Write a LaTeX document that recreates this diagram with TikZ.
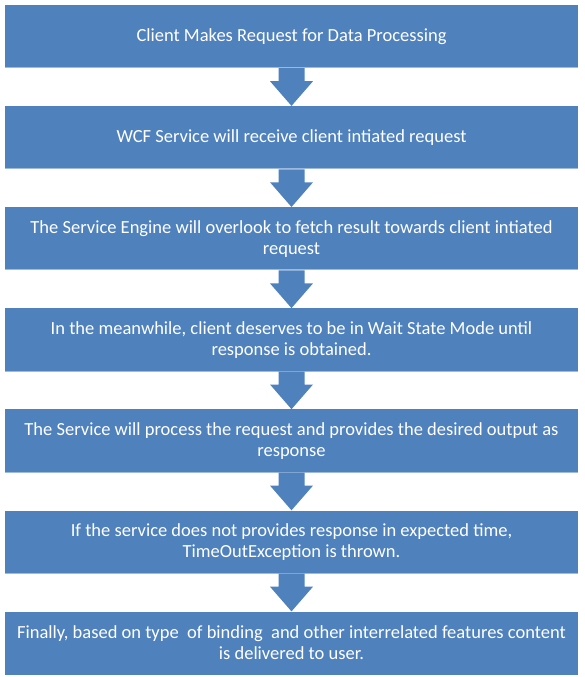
\documentclass[tikz,border=0pt]{standalone}
\usepackage{fontspec}
\setmainfont{Carlito}
\usetikzlibrary{positioning,calc}

\definecolor{stepblue}{HTML}{4F81BD}
\definecolor{stepline}{HTML}{9DB9DD}

\begin{document}
\begin{tikzpicture}[
    x = 1pt, y = 1pt,
    stepbox/.style = {fill = stepblue, minimum width = 573pt, minimum height = 63pt,
      inner sep = 0pt, text = white, align = center,
      font = \fontsize{18.5}{21}\selectfont},
    downarrow/.style = {fill = stepblue},
  ]
  \useasboundingbox (0,0) rectangle (585,-677);

  \node [stepbox] (step 1) at (291.5,-36.5) {Client Makes Request for Data Processing};
  \node [stepbox, below = 37.7pt of step 1] (step 2) {WCF Service will receive client intiated request};
  \node [stepbox, below = 37.7pt of step 2] (step 3) {The Service Engine will overlook to fetch result towards client intiated\\request};
  \node [stepbox, below = 37.7pt of step 3] (step 4) {In the meanwhile, client deserves to be in Wait State Mode until\\response is obtained.};
  \node [stepbox, below = 37.7pt of step 4] (step 5) {The Service will process the request and provides the desired output as\\response};
  \node [stepbox, below = 37.7pt of step 5] (step 6) {If the service does not provides response in expected time,\\TimeOutException is thrown.};
  \node [stepbox, below = 37.7pt of step 6] (step 7) {Finally, based on type\ \ of binding\ \ and other interrelated features content\\is delivered to user.};

  % thin light edge under each box
  \foreach \i in {1,...,6}
    \draw [stepline, line width = 1pt] ($(step \i.south west)+(0,0.5)$) -- ($(step \i.south east)+(0,0.5)$);

  \foreach \i [evaluate = \i as \j using int(\i+1)] in {1,...,6}
    \fill [downarrow] ($(step \i.south)+(-13,0)$) -- ($(step \i.south)+(-13,-13)$)
      -- ($(step \i.south)+(-21.5,-13)$) -- (step \j.north)
      -- ($(step \i.south)+(21.5,-13)$) -- ($(step \i.south)+(13,-13)$)
      -- ($(step \i.south)+(13,0)$) -- cycle;
\end{tikzpicture}
\end{document}
